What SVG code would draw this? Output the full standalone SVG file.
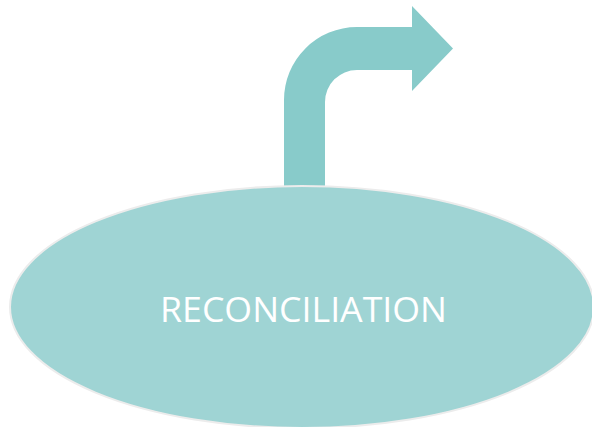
<svg xmlns="http://www.w3.org/2000/svg" width="592" height="427" viewBox="0 0 592 427">
<style>
.arrow{fill:#88cbca}
.oval{fill:#9fd4d4;stroke:#ececec;stroke-width:2}
.lbl{font-family:"Open Sans","Liberation Sans",sans-serif;font-weight:400;font-size:35px;fill:#ffffff}
</style>
<rect width="592" height="427" fill="#ffffff"/>
<g id="connectors">
<path class="arrow" d="M284,192 L284,100 A73,73 0 0 1 357,27 L412,27 L412,6 L453,48.5 L412,91 L412,70 L357,70 A32,32 0 0 0 325,102 L325,192 Z"/>
</g>
<g id="node-reconciliation">
<ellipse class="oval" cx="302" cy="307" rx="292" ry="121"/>
<text class="lbl" x="303.5" y="322" text-anchor="middle" textLength="287" lengthAdjust="spacingAndGlyphs">RECONCILIATION</text>
</g>
</svg>
